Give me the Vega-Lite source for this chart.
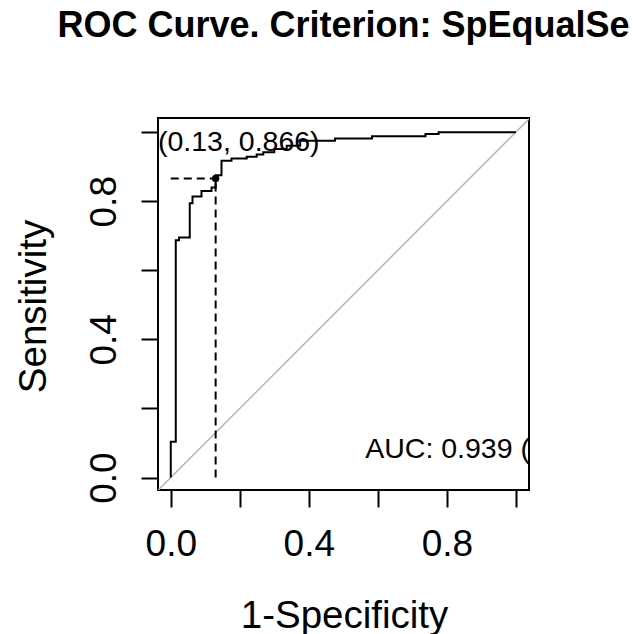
{
  "$schema": "https://vega.github.io/schema/vega-lite/v6.json",
  "autosize": "none",
  "padding": {"left": 158, "top": 118, "right": 104, "bottom": 144},
  "width": 371,
  "height": 372,
  "background": "white",
  "title": {
    "text": "ROC Curve. Criterion: SpEqualSe",
    "font": "Liberation Sans",
    "fontSize": 36,
    "fontWeight": "bold",
    "color": "black",
    "anchor": "middle",
    "frame": "group",
    "baseline": "alphabetic",
    "offset": 45
  },
  "config": {
    "view": {"stroke": "black", "strokeWidth": 2},
    "axis": {
      "domain": false,
      "grid": false,
      "ticks": true,
      "tickColor": "black",
      "tickWidth": 2,
      "tickSize": 17,
      "labelFont": "Liberation Sans",
      "labelFontSize": 37,
      "labelColor": "black",
      "labelFlush": false,
      "labelOverlap": false,
      "titleFont": "Liberation Sans",
      "titleFontSize": 38.5,
      "titleFontWeight": "normal",
      "titleColor": "black"
    }
  },
  "datasets": {
    "roc": [
      {"step": 0, "fpr": 0.0, "tpr": 0.0},
      {"step": 1, "fpr": 0.0, "tpr": 0.104},
      {"step": 2, "fpr": 0.0145, "tpr": 0.104},
      {"step": 3, "fpr": 0.0145, "tpr": 0.687},
      {"step": 4, "fpr": 0.024, "tpr": 0.687},
      {"step": 5, "fpr": 0.024, "tpr": 0.695},
      {"step": 6, "fpr": 0.055, "tpr": 0.695},
      {"step": 7, "fpr": 0.055, "tpr": 0.794},
      {"step": 8, "fpr": 0.063, "tpr": 0.794},
      {"step": 9, "fpr": 0.063, "tpr": 0.814},
      {"step": 10, "fpr": 0.089, "tpr": 0.814},
      {"step": 11, "fpr": 0.089, "tpr": 0.83},
      {"step": 12, "fpr": 0.118, "tpr": 0.83},
      {"step": 13, "fpr": 0.118, "tpr": 0.84},
      {"step": 14, "fpr": 0.13, "tpr": 0.84},
      {"step": 15, "fpr": 0.13, "tpr": 0.875},
      {"step": 16, "fpr": 0.147, "tpr": 0.875},
      {"step": 17, "fpr": 0.147, "tpr": 0.917},
      {"step": 18, "fpr": 0.176, "tpr": 0.917},
      {"step": 19, "fpr": 0.176, "tpr": 0.924},
      {"step": 20, "fpr": 0.22, "tpr": 0.924},
      {"step": 21, "fpr": 0.22, "tpr": 0.929},
      {"step": 22, "fpr": 0.249, "tpr": 0.929},
      {"step": 23, "fpr": 0.249, "tpr": 0.935},
      {"step": 24, "fpr": 0.268, "tpr": 0.935},
      {"step": 25, "fpr": 0.268, "tpr": 0.942},
      {"step": 26, "fpr": 0.3, "tpr": 0.942},
      {"step": 27, "fpr": 0.3, "tpr": 0.951},
      {"step": 28, "fpr": 0.336, "tpr": 0.951},
      {"step": 29, "fpr": 0.336, "tpr": 0.961},
      {"step": 30, "fpr": 0.375, "tpr": 0.961},
      {"step": 31, "fpr": 0.375, "tpr": 0.975},
      {"step": 32, "fpr": 0.476, "tpr": 0.975},
      {"step": 33, "fpr": 0.476, "tpr": 0.982},
      {"step": 34, "fpr": 0.583, "tpr": 0.982},
      {"step": 35, "fpr": 0.583, "tpr": 0.988},
      {"step": 36, "fpr": 0.738, "tpr": 0.988},
      {"step": 37, "fpr": 0.738, "tpr": 0.995},
      {"step": 38, "fpr": 0.776, "tpr": 0.995},
      {"step": 39, "fpr": 0.776, "tpr": 1.0},
      {"step": 40, "fpr": 1.0, "tpr": 1.0}
    ],
    "chance": [
      {"fpr": -0.05, "tpr": -0.05},
      {"fpr": 1.05, "tpr": 1.05}
    ],
    "guides": [
      {"fpr": 0.0, "tpr": 0.866, "fpr2": 0.13, "tpr2": 0.866},
      {"fpr": 0.13, "tpr": 0.0, "fpr2": 0.13, "tpr2": 0.866}
    ],
    "best": [
      {"fpr": 0.13, "tpr": 0.866}
    ],
    "notes": [
      {"fpr": -0.037, "tpr": 0.945, "label": "(0.13, 0.866)"},
      {"fpr": 0.5635, "tpr": 0.056, "label": "AUC: 0.939 ("}
    ]
  },
  "encoding": {
    "x": {
      "field": "fpr",
      "type": "quantitative",
      "scale": {"domain": [-0.037, 1.038], "nice": false, "zero": false},
      "axis": {
        "title": "1-Specificity",
        "values": [0, 0.2, 0.4, 0.6, 0.8, 1],
        "labelExpr": "round(datum.value * 10) % 4 == 0 ? format(datum.value, '.1f') : ''",
        "labelPadding": 19,
        "titleX": 186,
        "titleY": 137,
        "titleAlign": "center",
        "titleBaseline": "alphabetic"
      }
    },
    "y": {
      "field": "tpr",
      "type": "quantitative",
      "scale": {"domain": [-0.036, 1.041], "nice": false, "zero": false},
      "axis": {
        "title": "Sensitivity",
        "values": [0, 0.2, 0.4, 0.6, 0.8, 1],
        "labelExpr": "round(datum.value * 10) % 4 == 0 ? format(datum.value, '.1f') : ''",
        "labelAngle": 270,
        "labelAlign": "center",
        "labelBaseline": "alphabetic",
        "labelPadding": 26,
        "titleAngle": 270,
        "titleX": -113,
        "titleY": 188,
        "titleAlign": "center",
        "titleBaseline": "alphabetic"
      }
    }
  },
  "layer": [
    {
      "data": {"name": "chance"},
      "mark": {"type": "line", "color": "#b4b4b4", "strokeWidth": 1.5, "clip": true},
      "encoding": {}
    },
    {
      "data": {"name": "roc"},
      "mark": {"type": "line", "color": "black", "strokeWidth": 2, "clip": true},
      "encoding": {"order": {"field": "step", "type": "quantitative"}}
    },
    {
      "data": {"name": "guides"},
      "mark": {"type": "rule", "color": "black", "strokeWidth": 2, "strokeDash": [8, 5]},
      "encoding": {
        "x2": {"field": "fpr2"},
        "y2": {"field": "tpr2"}
      }
    },
    {
      "data": {"name": "best"},
      "mark": {"type": "point", "filled": true, "shape": "circle", "size": 55, "color": "black", "opacity": 1},
      "encoding": {}
    },
    {
      "data": {"name": "notes"},
      "mark": {"type": "text", "align": "left", "baseline": "alphabetic", "font": "Liberation Sans", "fontSize": 28.5, "color": "black", "clip": true},
      "encoding": {"text": {"field": "label"}}
    }
  ]
}
